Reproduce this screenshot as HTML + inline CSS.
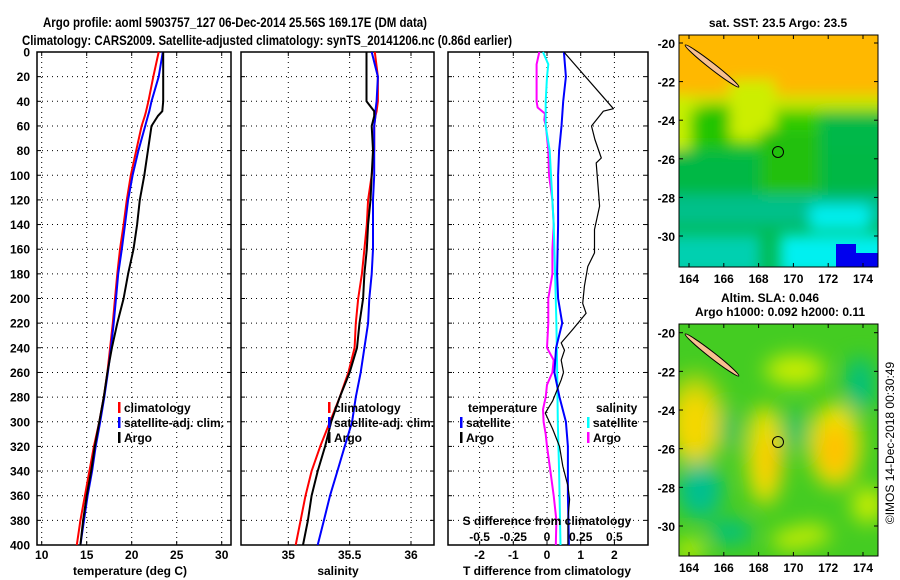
<!DOCTYPE html>
<html><head><meta charset="utf-8"><style>
html,body{margin:0;padding:0;background:#fff;}
svg{display:block;font-family:"Liberation Sans",sans-serif;font-weight:bold;}
</style></head><body>
<svg id="fig" width="900" height="580" viewBox="0 0 900 580" xmlns="http://www.w3.org/2000/svg">
<defs>
<filter id="blur1" x="-20%" y="-20%" width="140%" height="140%"><feGaussianBlur stdDeviation="7"/></filter>
<filter id="blur2" x="-20%" y="-20%" width="140%" height="140%"><feGaussianBlur stdDeviation="10"/></filter>
<clipPath id="clipMap1"><rect x="679" y="35" width="199" height="232"/></clipPath>
<clipPath id="clipMap2"><rect x="679" y="324" width="199" height="232"/></clipPath>
</defs>
<text x="235" y="27" font-size="14" text-anchor="middle" textLength="384" lengthAdjust="spacingAndGlyphs">Argo profile: aoml 5903757_127 06-Dec-2014 25.56S 169.17E (DM data)</text>
<text x="267" y="45" font-size="14" text-anchor="middle" textLength="490" lengthAdjust="spacingAndGlyphs">Climatology: CARS2009. Satellite-adjusted climatology: synTS_20141206.nc (0.86d earlier)</text>
<g id="panels"></g>

<!-- Map 1: SST -->
<g>
<text x="778" y="27" font-size="12" text-anchor="middle">sat. SST: 23.5 Argo: 23.5</text>
<g clip-path="url(#clipMap1)">
<rect x="679" y="35" width="199" height="232" fill="#00bb55"/>
<g filter="url(#blur1)">
<rect x="660" y="20" width="240" height="80" fill="#ffb800"/>
<rect x="660" y="95" width="240" height="20" fill="#c8e600"/>
<rect x="660" y="110" width="240" height="45" fill="#33cc00"/>
<rect x="660" y="95" width="30" height="60" fill="#c8f000"/>
<rect x="730" y="80" width="45" height="60" fill="#ccee00"/>
<rect x="700" y="105" width="30" height="45" fill="#22c400"/>
<rect x="820" y="115" width="70" height="70" fill="#00b84a"/>
<rect x="660" y="150" width="240" height="45" fill="#00b844"/>
<rect x="760" y="130" width="60" height="80" fill="#22c010"/>
<rect x="660" y="195" width="240" height="30" fill="#00c08a"/>
<rect x="780" y="235" width="110" height="40" fill="#00f0f0"/>
<rect x="810" y="205" width="60" height="25" fill="#00eeee"/>
<rect x="660" y="235" width="100" height="40" fill="#00d0b0"/>
</g>
<rect x="836" y="244" width="20" height="23" fill="#0000ee"/>
<rect x="856" y="253" width="22" height="14" fill="#0000ee"/>
<ellipse cx="712" cy="66" rx="34" ry="3" transform="rotate(38 712 66)" fill="#f8c090" stroke="#000" stroke-width="1"/>
<circle cx="778" cy="152" r="5.5" fill="none" stroke="#000" stroke-width="1"/>
</g>
<rect x="679" y="35" width="199" height="232" fill="none" stroke="#000"/>
<g id="map1axes"></g>
</g>

<!-- Map 2: SLA -->
<g>
<text x="770" y="302" font-size="12" text-anchor="middle">Altim. SLA: 0.046</text>
<text x="780" y="316" font-size="12" text-anchor="middle">Argo h1000: 0.092 h2000: 0.11</text>
<g clip-path="url(#clipMap2)">
<rect x="679" y="324" width="199" height="232" fill="#44cc22"/>
<g filter="url(#blur2)">
<ellipse cx="695" cy="425" rx="22" ry="35" fill="#ffcc00"/>
<ellipse cx="695" cy="420" rx="30" ry="48" fill="#eedd00" opacity="0.6"/>
<ellipse cx="765" cy="455" rx="18" ry="50" fill="#f0e000"/>
<ellipse cx="770" cy="460" rx="10" ry="25" fill="#ffc800"/>
<ellipse cx="835" cy="445" rx="26" ry="42" fill="#f0e000"/>
<ellipse cx="835" cy="450" rx="16" ry="25" fill="#ffc000"/>
<ellipse cx="795" cy="370" rx="30" ry="15" fill="#ccee00"/>
<ellipse cx="860" cy="385" rx="14" ry="28" fill="#00c080"/>
<ellipse cx="700" cy="490" rx="22" ry="28" fill="#00c090"/>
<ellipse cx="730" cy="430" rx="10" ry="22" fill="#20c060"/>
<ellipse cx="795" cy="430" rx="10" ry="22" fill="#00c070"/>
<ellipse cx="730" cy="532" rx="22" ry="12" fill="#00c080"/>
<ellipse cx="868" cy="505" rx="16" ry="18" fill="#ccee00"/>
<ellipse cx="690" cy="550" rx="15" ry="10" fill="#ccee00"/>
<ellipse cx="810" cy="535" rx="20" ry="10" fill="#ccee00"/>
<ellipse cx="790" cy="540" rx="18" ry="10" fill="#ccee00"/>
</g>
<ellipse cx="712" cy="355" rx="34" ry="3" transform="rotate(38 712 355)" fill="#f8c090" stroke="#000" stroke-width="1"/>
<circle cx="778" cy="442" r="5.5" fill="none" stroke="#000" stroke-width="1"/>
</g>
<rect x="679" y="324" width="199" height="232" fill="none" stroke="#000"/>
<g id="map2axes"></g>
</g>
<text x="0" y="0" font-size="12" font-weight="normal" text-anchor="middle" transform="translate(894 443) rotate(-90)">©IMOS 14-Dec-2018 00:30:49</text>
</svg>
<script>
// ---- data ----
const depths = [0, 20, 40, 48, 52, 60, 80, 100, 120, 140, 160, 180, 200, 220, 240, 260, 280, 300, 320, 340, 360, 380, 400];
const tempArgo = [23.5, 23.5, 23.5, 23.4, 22.9, 22.2, 21.8, 21.4, 20.9, 20.6, 20.2, 19.6, 19.1, 18.4, 17.8, 17.3, 16.9, 16.4, 15.9, 15.5, 15.0, 14.6, 14.3];
const tempClim = [23.0, 22.4, 21.85, 21.6, 21.45, 21.1, 20.5, 19.9, 19.45, 19.1, 18.7, 18.4, 18.15, 17.9, 17.6, 17.3, 16.9, 16.4, 15.8, 15.3, 14.8, 14.3, 13.9];
const tempSat = [23.45, 23.0, 22.2, 21.95, 21.8, 21.5, 20.75, 20.1, 19.6, 19.25, 18.9, 18.5, 18.25, 18.0, 17.7, 17.35, 16.95, 16.5, 16.0, 15.6, 15.1, 14.7, 14.3];
const salArgo = [35.637, 35.637, 35.637, 35.70, 35.70, 35.68, 35.69, 35.68, 35.67, 35.65, 35.64, 35.62, 35.61, 35.58, 35.56, 35.50, 35.42, 35.35, 35.30, 35.24, 35.19, 35.16, 35.12];
const salClim = [35.705, 35.73, 35.73, 35.72, 35.71, 35.70, 35.70, 35.68, 35.65, 35.64, 35.62, 35.60, 35.57, 35.55, 35.54, 35.49, 35.42, 35.34, 35.26, 35.19, 35.14, 35.10, 35.06];
const salSat = [35.68, 35.73, 35.72, 35.71, 35.71, 35.70, 35.70, 35.70, 35.69, 35.69, 35.69, 35.68, 35.66, 35.65, 35.62, 35.59, 35.55, 35.52, 35.46, 35.40, 35.34, 35.29, 35.24];
const tDiffArgoDepth = [0, 46, 48, 60, 71, 86, 90, 125, 144, 163, 174, 190, 204, 212, 225, 236, 242, 250, 260, 266, 283, 293, 306, 320, 336, 352, 363, 379, 390, 400];
const tDiffArgo = [0.5, 1.97, 1.67, 1.32, 1.42, 1.61, 1.46, 1.56, 1.41, 1.41, 1.21, 1.11, 1.06, 1.16, 0.77, 0.42, 0.52, 0.42, 0.49, 0.42, 0.17, -0.05, 0.17, 0.37, 0.47, 0.62, 0.67, 0.62, 0.62, 0.62];
const tDiffSatDepth = [0, 20, 40, 60, 80, 100, 140, 180, 200, 220, 240, 260, 280, 300, 320, 360, 400];
const tDiffSat = [0.5, 0.56, 0.48, 0.43, 0.36, 0.33, 0.33, 0.30, 0.33, 0.45, 0.27, 0.22, 0.37, 0.56, 0.62, 0.62, 0.65];
const sDiffSatDepth = [0, 10, 20, 40, 60, 80, 100, 140, 180, 220, 260, 300, 340, 400];
const sDiffSat = [-0.03, 0.01, 0.0, -0.01, -0.01, 0.02, 0.03, 0.05, 0.06, 0.07, 0.076, 0.08, 0.09, 0.10];
const sDiffArgoDepth = [0, 10, 20, 40, 45, 50, 55, 60, 80, 100, 120, 140, 160, 180, 200, 220, 240, 250, 260, 270, 280, 290, 300, 310, 320, 340, 360, 380, 400];
const sDiffArgo = [-0.057, -0.077, -0.077, -0.077, -0.07, -0.015, -0.02, -0.008, 0.01, 0.015, 0.04, 0.05, 0.04, 0.04, 0.01, 0.01, 0.0, 0.05, 0.04, 0.0, -0.01, -0.03, -0.025, -0.01, 0.0, 0.025, 0.05, 0.07, 0.065];
const depthTicks = [0, 20, 40, 60, 80, 100, 120, 140, 160, 180, 200, 220, 240, 260, 280, 300, 320, 340, 360, 380, 400];
const tempTicks = [10, 15, 20, 25, 30];
const salTicks = [35, 35.5, 36];
const salTickLabels = ["35", "35.5", "36"];
const tDiffTicks = [-2, -1, 0, 1, 2];
const sDiffTicks = [-0.5, -0.25, 0, 0.25, 0.5];
const sDiffTickLabels = ["-0.5", "-0.25", "0", "0.25", "0.5"];
const lonTicks = [164, 166, 168, 170, 172, 174];
const latTicks = [-20, -22, -24, -26, -28, -30];

// ---- scales ----
const NS = "http://www.w3.org/2000/svg";
const Y0 = 52, Y1 = 545;
function yD(d){ return Y0 + d * (Y1 - Y0) / 400; }
function xT(t){ return 41.7 + (t - 10) * 9.0; }
function xS(s){ return 288.3 + (s - 35) * 122.7; }
function xTd(t){ return 547 + t * 33.7; }
function xSd(s){ return 547 + s * 134.8; }
function lonX(l){ return 689 + (l - 164) * 17.4; }
function latY1(l){ return 43 + (-20 - l) * 19.3; }
function latY2(l){ return 332.7 + (-20 - l) * 19.33; }

function mk(tag, attrs, parent){
  const e = document.createElementNS(NS, tag);
  for (const k in attrs) e.setAttribute(k, attrs[k]);
  parent.appendChild(e);
  return e;
}
function txt(str, x, y, anchor, parent, size){
  const t = mk("text", {x: x, y: y, "text-anchor": anchor || "middle", "font-size": size || 12}, parent);
  t.textContent = str;
  return t;
}
const root = document.getElementById("panels");

function panel(name, x0, x1, xticksPos){
  const g = mk("g", {}, root);
  
  
  const grid = mk("g", {stroke: "#000", "stroke-width": 1, "stroke-dasharray": "1,4"}, g);
  
  
  depthTicks.forEach(d => { if (d > 0 && d < 400) mk("line", {x1: x0, x2: x1, y1: yD(d), y2: yD(d)}, grid); });
  xticksPos.forEach(px => mk("line", {x1: px, x2: px, y1: Y0, y2: Y1}, grid));
  const ticks = mk("g", {stroke: "#000", "stroke-width": 1}, g);
  depthTicks.forEach(d => {
    mk("line", {x1: x0, x2: x0 + 4, y1: yD(d), y2: yD(d)}, ticks);
    mk("line", {x1: x1, x2: x1 - 4, y1: yD(d), y2: yD(d)}, ticks);
  });
  xticksPos.forEach(px => {
    mk("line", {x1: px, x2: px, y1: Y1, y2: Y1 - 4}, ticks);
    mk("line", {x1: px, x2: px, y1: Y0, y2: Y0 + 4}, ticks);
  });
  const frame = mk("rect", {x: x0, y: Y0, width: x1 - x0, height: Y1 - Y0, fill: "none", stroke: "#000", "stroke-width": 1.5}, g);
  
  
  return g;
}
function line(g, xs, ds, xf, color, w, name){
  const pts = xs.map((v, i) => xf(v).toFixed(1) + "," + yD(ds[i]).toFixed(1)).join(" ");
  const p = mk("polyline", {points: pts, fill: "none", stroke: color, "stroke-width": w, "stroke-linejoin": "round"}, g);
  
  
}
function legendEntry(g, color, label, x, y, name){
  const lg = mk("g", {}, g);
  
  
  mk("rect", {x: x, y: y - 10, width: 2.5, height: 11, fill: color}, lg);
  if (label) txt(label, x + 6, y, "start", lg);
}

// Panel 1: temperature
const p1 = panel("temperature-panel", 37, 231, tempTicks.map(xT));
line(p1, tempClim, depths, xT, "#ff0000", 2, "climatology-temperature-line");
line(p1, tempSat, depths, xT, "#0000ff", 2, "satellite-temperature-line");
line(p1, tempArgo, depths, xT, "#000000", 2, "argo-temperature-line");
const yl = mk("g", {}, p1);


depthTicks.forEach(d => txt(String(d), 30, yD(d) + 4.5, "end", yl));
const xl1 = mk("g", {}, p1);


tempTicks.forEach(t => txt(String(t), xT(t), 559, "middle", xl1));
const xt1 = txt("temperature (deg C)", 130, 575, "middle", p1);


legendEntry(p1, "#ff0000", "climatology", 118, 412, "legend-climatology");
legendEntry(p1, "#0000ff", "satellite-adj. clim.", 118, 427, "legend-satellite-adj");
legendEntry(p1, "#000000", "Argo", 118, 442, "legend-argo");

// Panel 2: salinity
const p2 = panel("salinity-panel", 241, 434, salTicks.map(xS));
line(p2, salClim, depths, xS, "#ff0000", 2, "climatology-salinity-line");
line(p2, salSat, depths, xS, "#0000ff", 2, "satellite-salinity-line");
line(p2, salArgo, depths, xS, "#000000", 2, "argo-salinity-line");
const xl2 = mk("g", {}, p2);


salTicks.forEach((s, i) => txt(salTickLabels[i], xS(s), 559, "middle", xl2));
const xt2 = txt("salinity", 338, 575, "middle", p2);


legendEntry(p2, "#ff0000", "climatology", 328, 412, "legend-climatology-2");
legendEntry(p2, "#0000ff", "satellite-adj. clim.", 328, 427, "legend-satellite-adj-2");
legendEntry(p2, "#000000", "Argo", 328, 442, "legend-argo-2");

// Panel 3: differences
const p3 = panel("difference-panel", 448, 648, tDiffTicks.map(xTd));
line(p3, sDiffArgo, sDiffArgoDepth, xSd, "#ff00ff", 2, "argo-salinity-diff-line");
line(p3, sDiffSat, sDiffSatDepth, xSd, "#00ffff", 2, "satellite-salinity-diff-line");
line(p3, tDiffSat, tDiffSatDepth, xTd, "#0000ff", 2, "satellite-temperature-diff-line");
line(p3, tDiffArgo, tDiffArgoDepth, xTd, "#000000", 1.2, "argo-temperature-diff-line");
const xl3 = mk("g", {}, p3);


tDiffTicks.forEach(t => txt(String(t), xTd(t), 559, "middle", xl3));
const xt3 = txt("T difference from climatology", 547, 575, "middle", p3);


const sl3 = mk("g", {}, p3);


sDiffTicks.forEach((s, i) => txt(sDiffTickLabels[i], xSd(s), 541, "middle", sl3));
const st3 = txt("S difference from climatology", 547, 525, "middle", p3);


const lt = txt("temperature", 468, 412, "start", p3);


const ls = txt("salinity", 596, 412, "start", p3);


legendEntry(p3, "#0000ff", "satellite", 460, 427, "legend-t-satellite");
legendEntry(p3, "#000000", "Argo", 460, 442, "legend-t-argo");
legendEntry(p3, "#00ffff", "satellite", 587, 427, "legend-s-satellite");
legendEntry(p3, "#ff00ff", "Argo", 587, 442, "legend-s-argo");

// Map axes
function mapAxes(id, yTop, yBot, latY, name){
  const g = document.getElementById(id);
  
  
  lonTicks.forEach(l => {
    const x = lonX(l);
    mk("line", {x1: x, x2: x, y1: yBot, y2: yBot - 4, stroke: "#000"}, g);
    mk("line", {x1: x, x2: x, y1: yTop, y2: yTop + 4, stroke: "#000"}, g);
    txt(String(l), x, yBot + 16, "middle", g);
  });
  latTicks.forEach(l => {
    const y = latY(l);
    mk("line", {x1: 679, x2: 683, y1: y, y2: y, stroke: "#000"}, g);
    mk("line", {x1: 878, x2: 874, y1: y, y2: y, stroke: "#000"}, g);
    txt(String(l), 675, y + 5, "end", g);
  });
}
mapAxes("map1axes", 35, 267, latY1, "sst-map-axes");
mapAxes("map2axes", 324, 556, latY2, "sla-map-axes");
</script>
</body></html>
